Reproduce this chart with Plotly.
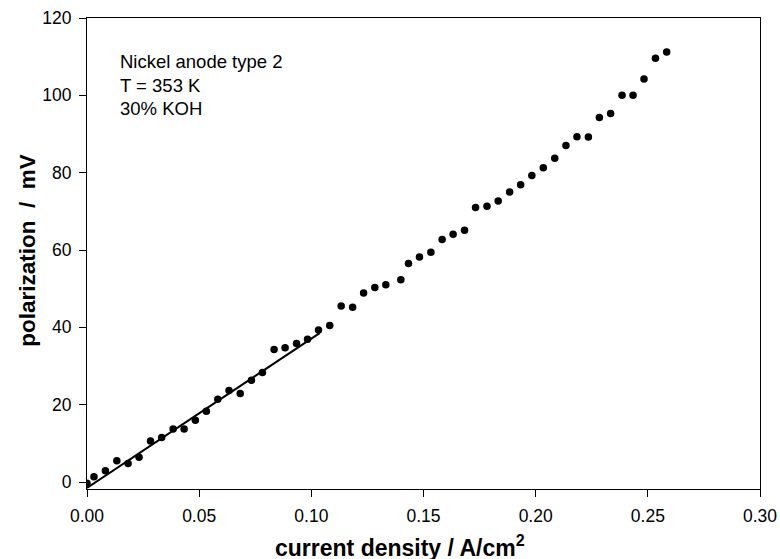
import plotly.graph_objects as go

# measured data (current density A/cm2, polarization mV)
current_density = [0.000, 0.0031, 0.0082, 0.0133, 0.0183, 0.0232, 0.0283, 0.0333, 0.0384, 0.0433,
                   0.0483, 0.0532, 0.0583, 0.0633, 0.0683, 0.0733, 0.0782, 0.0834, 0.0883, 0.0934,
                   0.0983, 0.1032, 0.1082, 0.1133, 0.1184, 0.1233, 0.1283, 0.1332, 0.1399, 0.1433,
                   0.1482, 0.1533, 0.1583, 0.1632, 0.1683, 0.1732, 0.1783, 0.1833, 0.1884, 0.1933,
                   0.1983, 0.2034, 0.2085, 0.2135, 0.2184, 0.2235, 0.2284, 0.2334, 0.2385, 0.2434,
                   0.2483, 0.2534, 0.2584]
polarization = [-0.3, 1.4, 2.9, 5.5, 4.8, 6.4, 10.6, 11.5, 13.7, 13.7,
                16.0, 18.3, 21.4, 23.7, 22.9, 26.3, 28.3, 34.3, 34.7, 35.8,
                36.9, 39.3, 40.5, 45.5, 45.2, 48.9, 50.3, 51.0, 52.3, 56.5,
                58.2, 59.4, 62.7, 64.1, 65.1, 71.0, 71.3, 72.7, 75.0, 76.9,
                79.3, 81.3, 83.7, 87.0, 89.3, 89.2, 94.3, 95.3, 100.0, 100.0,
                104.2, 109.6, 111.2]

fit_x = [0.0, 0.1037]
fit_y = [-1.5, 38.5]

x_ticks = [0.0, 0.05, 0.10, 0.15, 0.20, 0.25, 0.30]
x_tick_labels = ["0.00", "0.05", "0.10", "0.15", "0.20", "0.25", "0.30"]
y_ticks = [0, 20, 40, 60, 80, 100, 120]

info_lines = ["Nickel anode type 2", "T = 353 K", "30% KOH"]
info_y = [108.7, 102.6, 96.7]

FONT = "Liberation Sans, Arial, sans-serif"

fig = go.Figure()
fig.add_trace(go.Scatter(x=fit_x, y=fit_y, mode="lines",
                         line=dict(color="black", width=2), showlegend=False))
fig.add_trace(go.Scatter(x=current_density, y=polarization, mode="markers",
                         marker=dict(color="black", size=7.5), showlegend=False))

annotations = []
for txt, yv in zip(info_lines, info_y):
    annotations.append(dict(x=0.0137, y=yv, xref="x", yref="y", text=txt, showarrow=False,
                            xanchor="left", yanchor="middle",
                            font=dict(family=FONT, size=18.5, color="black")))
annotations.append(dict(x=0.4648, y=-0.122, xref="paper", yref="paper",
                        text="<b>current density / A/cm<sup>2</sup></b>", showarrow=False,
                        xanchor="center", yanchor="middle",
                        font=dict(family=FONT, size=23, color="black")))
annotations.append(dict(x=-0.0880, y=0.5077, xref="paper", yref="paper",
                        text="<b>polarization\u00a0\u00a0/\u00a0\u00a0mV</b>", showarrow=False,
                        textangle=-90, xanchor="center", yanchor="middle",
                        font=dict(family=FONT, size=22.5, color="black")))

fig.update_layout(
    template="none",
    width=780, height=559,
    margin=dict(l=87, r=20, t=18, b=70),
    plot_bgcolor="white", paper_bgcolor="white",
    annotations=annotations,
    xaxis=dict(range=[0, 0.30], tickvals=x_ticks, ticktext=x_tick_labels, automargin=False,
               showgrid=False, zeroline=False, showline=True, linecolor="black", linewidth=1,
               mirror=True, ticks="outside", ticklen=7, tickcolor="black", tickwidth=1,
               tickfont=dict(family=FONT, size=17.5, color="black"), ticklabelstandoff=4),
    yaxis=dict(range=[-1.8, 120], tickvals=y_ticks, automargin=False,
               showgrid=False, zeroline=False, showline=True, linecolor="black", linewidth=1,
               mirror=True, ticks="outside", ticklen=7, tickcolor="black", tickwidth=1,
               tickfont=dict(family=FONT, size=17.5, color="black"), ticklabelstandoff=4),
)

fig.write_html("out.html", config={"displayModeBar": False},
               post_script="document.body.style.margin='0px';")
